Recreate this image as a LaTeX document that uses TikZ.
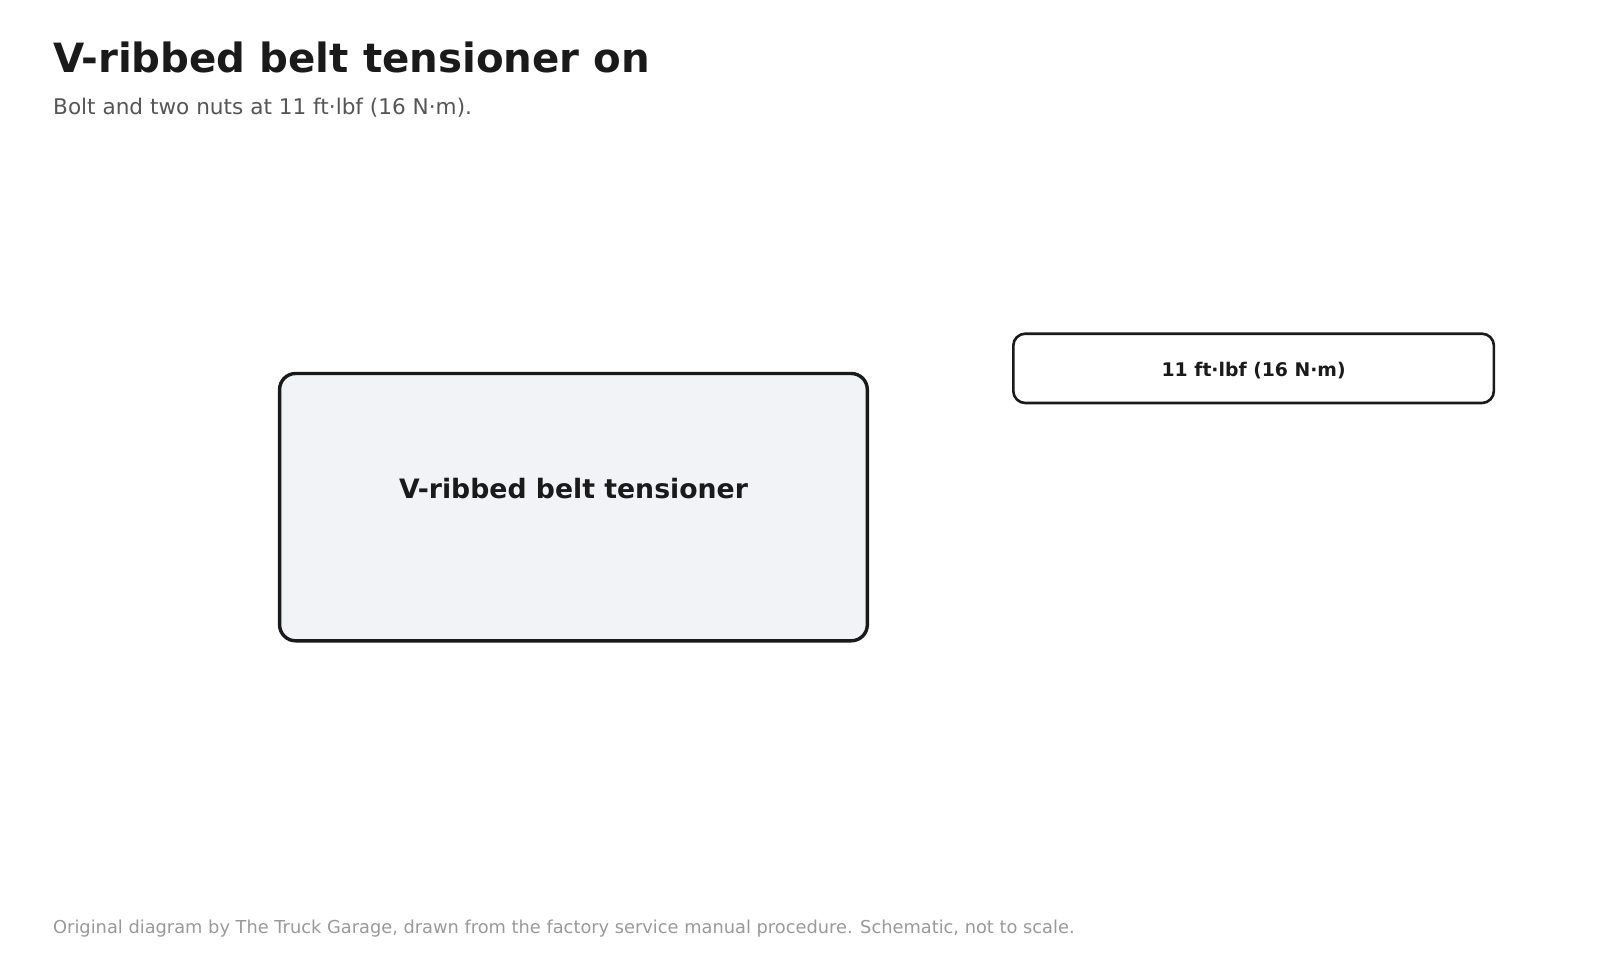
\documentclass[tikz,border=0pt]{standalone}
\usepackage{fontspec}
\setmainfont{DejaVu Sans}
\definecolor{ink}{HTML}{1A1A1A}
\definecolor{sub}{HTML}{555555}
\definecolor{foot}{HTML}{999999}
\definecolor{boxfill}{HTML}{F2F3F6}
\tikzset{
  title/.style={anchor=base west, inner sep=0pt, text=ink, font=\bfseries\fontsize{40.3}{48}\selectfont},
  subtitle/.style={anchor=base west, inner sep=0pt, text=sub, font=\fontsize{21.6}{26}\selectfont},
  footer/.style={anchor=base west, inner sep=0pt, text=foot, font=\fontsize{17.8}{21}\selectfont},
  mainbox/.style={draw=ink, line width=3.4pt, fill=boxfill, rounded corners=16pt},
  torquebox/.style={draw=ink, line width=2.6pt, fill=white, rounded corners=12pt},
  boxlabel/.style={anchor=base, inner sep=0pt, text=ink, font=\bfseries\fontsize{26.7}{32}\selectfont},
  torquelabel/.style={anchor=base, inner sep=0pt, text=ink, font=\bfseries\fontsize{18.8}{22}\selectfont}
}
\begin{document}
\begin{tikzpicture}[x=1pt,y=-1pt]
\useasboundingbox (0,0) rectangle (1600,960);
\node[title] (title) at (53,72.5) {V-ribbed belt tensioner on};
\node[subtitle] (subtitle) at (53,114.5) {Bolt and two nuts at 11 ft·lbf (16 N·m).};
\draw[mainbox] (279.6,373.5) rectangle (867.3,640.8);
\node[boxlabel] (tensioner) at (573.5,498) {V-ribbed belt tensioner};
\draw[torquebox] (1013.3,333.7) rectangle (1493.9,403);
\node[torquelabel] (torque) at (1253.6,376) {11 ft·lbf (16 N·m)};
\node[footer] (footer) at (53,933) {Original diagram by The Truck Garage, drawn from the factory service manual procedure. Schematic, not to scale.};
\end{tikzpicture}
\end{document}
